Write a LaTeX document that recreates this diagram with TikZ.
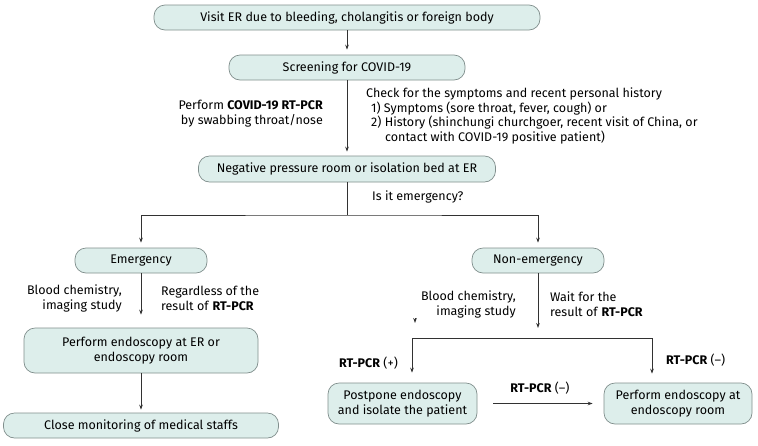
\documentclass[tikz,border=0pt]{standalone}
\usepackage{fontspec}
\setmainfont{Fira Sans}
\usetikzlibrary{arrows.meta,positioning,shapes}

\definecolor{boxfill}{RGB}{221,238,235}
\definecolor{boxline}{RGB}{128,142,140}
\definecolor{linegray}{RGB}{50,50,50}

\begin{document}
\begin{tikzpicture}[->,>={Stealth[length=5pt,width=3.6pt]},x=1pt,y=-1pt,
  font=\fontsize{12.5}{15}\selectfont,
  every edge/.style={draw=linegray,line width=0.8pt}]
\tikzstyle{stepbox}=[fill=boxfill,draw=boxline,line width=0.7pt,shape=rectangle,rounded corners=11pt,minimum height=25pt,inner sep=2pt,text=black,align=center]
\tikzstyle{note}=[inner sep=0pt,text=black]
\tikzstyle{flow}=[draw=linegray,line width=0.8pt]

\useasboundingbox (0,0) rectangle (758,445);

\node[stepbox,minimum width=386pt] (visit) at (347,17.5) {Visit ER due to bleeding, cholangitis or foreign body};
\node[stepbox,minimum width=236pt] (screen) [below of=visit,node distance=50pt] {Screening for COVID-19};
\node[stepbox,minimum width=297pt,minimum height=26pt] (room) [below of=screen,node distance=101.5pt] {Negative pressure room or isolation bed at ER};
\node[stepbox,minimum width=132pt] (emerg) [below of=room,node distance=91.5pt,xshift=-206pt] {Emergency};
\node[stepbox,minimum width=132pt] (nonemerg) [below of=room,node distance=91.5pt,xshift=191pt] {Non-emergency};
\node[stepbox,minimum width=234pt,minimum height=45pt] (scopeER) [below of=emerg,node distance=90pt] {Perform endoscopy at ER or\\endoscopy room};
\node[stepbox,minimum width=275pt] (monitor) [below of=scopeER,node distance=75pt] {Close monitoring of medical staffs};
\node[stepbox,minimum width=149pt,minimum height=41pt] (postpone) [below of=nonemerg,node distance=143pt,xshift=-135.5pt] {Postpone endoscopy\\and isolate the patient};
\node[stepbox,minimum width=148pt,minimum height=41pt] (scopeRoom) [right of=postpone,node distance=275.5pt] {Perform endoscopy at\\endoscopy room};

% labels beside the connectors
\node[note,anchor=east,align=right] (pcrnote) at (323,114) {Perform \textbf{COVID-19 RT-PCR}\\by swabbing throat/nose};
\node[note,anchor=west,align=left,font=\fontsize{12.5}{14.7}\selectfont] (checknote) at (366,116) {Check for the symptoms and recent personal history\\\hspace*{5pt}1) Symptoms (sore throat, fever, cough) or\\\hspace*{5pt}2) History (shinchungi churchgoer, recent visit of China, or\\\hspace*{19pt}contact with COVID-19 positive patient)};
\node[note,anchor=west] (asknote) at (372,197) {Is it emergency?};
\node[note,anchor=east,align=right] (bloodL) at (122,298.5) {Blood chemistry,\\imaging study};
\node[note,anchor=west,align=left] (regardL) at (161,298.5) {Regardless of the\\result of \textbf{RT-PCR}};
\node[note,anchor=east,align=right] (bloodR) at (516,304.5) {Blood chemistry,\\imaging study};
\node[note,anchor=west,align=left] (waitR) at (550,304.5) {Wait for the\\result of \textbf{RT-PCR}};
\node[note,anchor=east] (pcrpos) at (398,363) {\textbf{RT-PCR} (+)};
\node[note,anchor=west] (pcrnegR) at (666,360) {\textbf{RT-PCR} (--)};
\node[note] (pcrnegM) at (540,388) {\textbf{RT-PCR} (--)};

\coordinate[below of=room,node distance=46pt] (split);
\coordinate[below of=nonemerg,node distance=67.5pt] (waitend);
\coordinate (pcrL) at (412,338);
\coordinate (pcrR) at (652,338);
\coordinate (stray) at (415,323);

\path
(visit) edge[shorten >=5pt] (screen)
(screen) edge[shorten >=4pt] (room)
(room) edge[-] (split)
(emerg) edge[shorten >=13pt] (scopeER)
(scopeER) edge[shorten >=3pt] (monitor)
(nonemerg) edge (waitend)
(postpone) edge[shorten <=16pt,shorten >=11pt] (scopeRoom)
([yshift=5pt]stray) edge (stray)
;
\draw[flow,<->,shorten <=5pt,shorten >=5pt] (emerg.north) |- (split) -| (nonemerg.north);
\draw[flow,<->,shorten <=10pt,shorten >=9pt] (postpone.north -| pcrL) -- (pcrL) -- (pcrR) -- (scopeRoom.north -| pcrR);
\end{tikzpicture}
\end{document}
